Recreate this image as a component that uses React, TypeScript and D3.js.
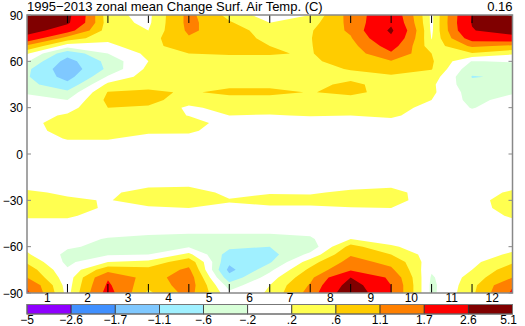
import React from 'react';
import * as d3 from 'd3';

const title = '1995\u22122013 zonal mean Change Surf. Air Temp. (C)';
const globalMean = '0.16';
const months = ['1', '2', '3', '4', '5', '6', '7', '8', '9', '10', '11', '12'];
const latTicks = [90, 60, 30, 0, -30, -60, -90];
const latTickLabels = ['90', '60', '30', '0', '\u221230', '\u221260', '\u221290'];
const levels = [-5, -2.6, -1.7, -1.1, -0.6, -0.2, 0.2, 0.6, 1.1, 1.7, 2.6, 5.1];
const levelLabels = ['\u22125', '\u22122.6', '\u22121.7', '\u22121.1', '\u2212.6', '\u2212.2', '.2', '.6', '1.1', '1.7', '2.6', '5.1'];
const colors = ['#8f00ff', '#4090ff', '#7fc8ff', '#a0f0ff', '#d8ffd8', '#ffffff', '#ffff50', '#ffcc00', '#ff8000', '#ff0000', '#800000'];

// grid latitudes (rows)
const lats = [90, 85, 80, 75, 70, 65, 60, 55, 50, 45, 40, 35, 30, 25, 20, 15, 10, 5, 0, -5, -10, -15, -20, -25, -30, -35, -40, -45, -50, -55, -60, -65, -70, -75, -80, -85, -90];

// values at the 12 grid columns (wraps cyclically)
const change: number[][] = [
  [5.0, 2.85, 0.3, 0.1, 1.25, 0.45, 0.0, 0.2, 1.3, 2.3, 0.1, 2.6],
  [4.0, 2.75, 0.35, 0.12, 1.25, 0.65, 0.2, 0.4, 1.25, 2.45, 0.1, 2.65],
  [3.1, 2.0, 0.35, 0.2, 1.2, 0.8, 0.4, 0.55, 1.2, 2.75, 0.12, 2.55],
  [2.2, 0.85, 0.3, 0.4, 1.05, 0.8, 0.5, 0.58, 1.05, 2.45, 0.18, 2.05],
  [1.0, 0.0, 0.1, 0.45, 0.85, 0.75, 0.6, 0.58, 0.9, 2.0, 0.3, 1.2],
  [0.25, -0.9, -0.2, 0.3, 0.6, 0.62, 0.62, 0.58, 0.8, 1.6, 0.6, 0.55],
  [-0.15, -1.3, -0.45, 0.2, 0.45, 0.5, 0.5, 0.55, 0.72, 1.05, 0.65, -0.22],
  [-0.5, -1.45, -0.5, 0.3, 0.4, 0.4, 0.45, 0.5, 0.62, 0.75, 0.62, -0.48],
  [-0.55, -1.3, -0.15, 0.4, 0.4, 0.4, 0.45, 0.45, 0.5, 0.55, 0.42, -0.62],
  [-0.45, -0.95, 0.3, 0.45, 0.4, 0.5, 0.5, 0.5, 0.68, 0.45, 0.28, -0.5],
  [-0.25, -0.5, 0.62, 0.68, 0.55, 0.7, 0.7, 0.58, 0.7, 0.45, 0.28, -0.38],
  [-0.05, -0.2, 0.7, 0.72, 0.4, 0.45, 0.45, 0.4, 0.45, 0.35, 0.2, -0.32],
  [0.0, 0.05, 0.6, 0.55, 0.12, 0.35, 0.35, 0.35, 0.3, 0.3, 0.12, -0.22],
  [0.05, 0.25, 0.45, 0.35, 0.19, 0.2, 0.18, 0.22, 0.2, 0.25, 0.05, -0.08],
  [0.1, 0.35, 0.4, 0.35, 0.3, 0.1, 0.05, 0.05, 0.05, 0.1, 0.0, 0.0],
  [0.1, 0.3, 0.3, 0.25, 0.25, 0.05, 0.0, 0.0, 0.0, 0.0, 0.0, 0.0],
  [0.05, 0.22, 0.22, 0.12, 0.1, 0.0, 0.0, 0.0, 0.0, 0.0, 0.0, 0.0],
  [0.0, 0.1, 0.1, 0.05, 0.05, 0.0, 0.0, 0.0, 0.0, 0.0, 0.0, 0.0],
  [0.0, 0.0, 0.0, 0.0, 0.0, 0.0, 0.0, 0.0, 0.0, 0.0, 0.0, 0.0],
  [0.0, 0.0, 0.0, 0.0, 0.0, 0.0, 0.0, 0.0, 0.0, 0.0, 0.0, 0.0],
  [0.05, 0.0, 0.0, 0.0, 0.0, 0.0, 0.0, 0.0, 0.0, 0.0, 0.0, 0.0],
  [0.1, 0.05, 0.05, 0.05, 0.05, 0.05, 0.05, 0.05, 0.05, 0.05, 0.0, 0.0],
  [0.1, 0.1, 0.1, 0.15, 0.15, 0.08, 0.1, 0.1, 0.12, 0.14, 0.05, 0.05],
  [0.25, 0.15, 0.15, 0.3, 0.35, 0.12, 0.18, 0.17, 0.25, 0.3, 0.05, 0.05],
  [0.45, 0.25, 0.18, 0.35, 0.35, 0.22, 0.3, 0.3, 0.35, 0.35, 0.0, 0.0],
  [0.4, 0.35, 0.15, 0.15, 0.2, 0.15, 0.15, 0.15, 0.18, 0.2, 0.0, 0.0],
  [0.25, 0.25, 0.05, 0.05, 0.05, 0.0, 0.0, 0.0, 0.0, 0.05, 0.0, 0.0],
  [0.1, 0.1, 0.0, 0.0, 0.0, 0.0, -0.05, -0.05, 0.0, 0.0, 0.0, 0.0],
  [0.0, -0.05, -0.1, -0.15, -0.15, -0.15, -0.15, -0.1, -0.05, 0.0, 0.0, 0.0],
  [0.0, -0.1, -0.22, -0.25, -0.3, -0.3, -0.3, -0.25, 0.2, 0.0, 0.0, 0.0],
  [0.1, -0.15, -0.3, -0.3, -0.25, -0.5, -0.6, -0.45, 0.75, 0.25, 0.0, 0.0],
  [0.25, -0.3, -0.25, -0.2, 0.3, -0.8, -0.75, -0.1, 1.05, 0.6, 0.0, 0.05],
  [0.55, -0.3, 0.2, 0.3, 0.9, -1.0, -0.65, 0.4, 1.3, 0.95, -0.05, 0.1],
  [0.85, -0.15, 0.9, 0.75, 1.2, -1.25, -0.3, 0.7, 1.6, 1.2, -0.15, 0.2],
  [1.1, -0.05, 1.65, 0.85, 1.4, -0.9, 0.0, 0.95, 2.6, 1.55, -0.25, 0.35],
  [1.65, 0.0, 1.8, 0.7, 1.4, -0.4, 0.2, 1.15, 3.0, 1.7, -0.3, 0.45],
  [1.8, 0.05, 1.95, 0.5, 1.3, -0.1, 0.25, 1.3, 3.3, 1.7, -0.3, 0.5],
];

const W = 525, H = 326;
const X0 = 27, X1 = 512.5, Y0 = 15, Y1 = 293;
const CB_Y0 = 304.5, CB_Y1 = 314;
const FONT = '"Liberation Sans", Arial, Helvetica, sans-serif';

export default function App() {
  const nx = 13;
  const ny = lats.length;
  const grid: number[] = [];
  for (let j = 0; j < ny; j++) for (let i = 0; i < nx; i++) grid.push(change[j][i % 12]);

  // grid coordinate (column index + 0.5) -> pixel
  const xs = d3.scaleLinear().domain([0.5, 12.5]).range([X0, X1]);
  const ys = d3.scaleLinear().domain([0.5, ny - 0.5]).range([Y0, Y1]);
  const latScale = d3.scaleLinear().domain([90, -90]).range([Y0, Y1]);
  const monthScale = d3.scaleLinear().domain([0.5, 12.5]).range([X0, X1]);

  const contours = d3.contours().size([nx, ny]).thresholds(levels.slice(0, -1))(grid);
  const path = d3.geoPath(
    d3.geoTransform({
      point(x: number, y: number) {
        (this as any).stream.point(xs(x), ys(y));
      },
    })
  );

  const cbScale = d3.scaleLinear().domain([0, levels.length - 1]).range([X0, X1]);

  return (
    <svg width={W} height={H} style={{ position: 'absolute', left: 0, top: 0, background: '#fff' }} fontFamily={FONT}>
      <defs>
        <clipPath id="plotClip">
          <rect x={X0} y={Y0} width={X1 - X0} height={Y1 - Y0} />
        </clipPath>
      </defs>
      <g clipPath="url(#plotClip)">
        {contours.map((c, i) => (
          <path key={i} d={path(c as any) || ''} fill={colors[i]} stroke="none" />
        ))}
      </g>
      {/* month boundary ticks */}
      {d3.range(1, 12).map((k) => (
        <g key={k}>
          <line x1={monthScale(k + 0.5)} x2={monthScale(k + 0.5)} y1={Y0} y2={Y0 + 8} stroke="#000" strokeWidth={1} />
          <line x1={monthScale(k + 0.5)} x2={monthScale(k + 0.5)} y1={Y1} y2={Y1 - 9} stroke="#000" strokeWidth={1} />
        </g>
      ))}
      {/* lat ticks */}
      {latTicks.map((t, i) => (
        <g key={t}>
          <line x1={X0} x2={X0 + 4} y1={latScale(t)} y2={latScale(t)} stroke="#888" />
          <line x1={X1} x2={X1 - 4} y1={latScale(t)} y2={latScale(t)} stroke="#888" />
          <text x={23} y={latScale(t) + 4.5} textAnchor="end" fontSize={12} fill="#000">
            {latTickLabels[i]}
          </text>
        </g>
      ))}
      <rect x={X0} y={Y0} width={X1 - X0} height={Y1 - Y0} fill="none" stroke="#888" strokeWidth={1.5} />
      {months.map((m, i) => (
        <text key={m} x={monthScale(i + 1)} y={302} textAnchor="middle" fontSize={12} fill="#000">
          {m}
        </text>
      ))}
      <text x={X0} y={11} fontSize={13} fill="#000">{title}</text>
      <text x={X1} y={11} fontSize={13} textAnchor="end" fill="#000">{globalMean}</text>
      {/* colorbar */}
      {colors.map((c, i) => (
        <rect key={i} x={cbScale(i)} y={CB_Y0} width={cbScale(i + 1) - cbScale(i)} height={CB_Y1 - CB_Y0} fill={c} stroke="#333" strokeWidth={0.8} />
      ))}
      <rect x={X0} y={CB_Y0} width={X1 - X0} height={CB_Y1 - CB_Y0} fill="none" stroke="#777" strokeWidth={1} />
      {levelLabels.map((l, i) => (
        <text key={i} x={i === levelLabels.length - 1 ? 517 : cbScale(i)} y={324} fontSize={12}
          textAnchor={i === levelLabels.length - 1 ? 'end' : 'middle'} fill="#000">
          {l}
        </text>
      ))}
    </svg>
  );
}
